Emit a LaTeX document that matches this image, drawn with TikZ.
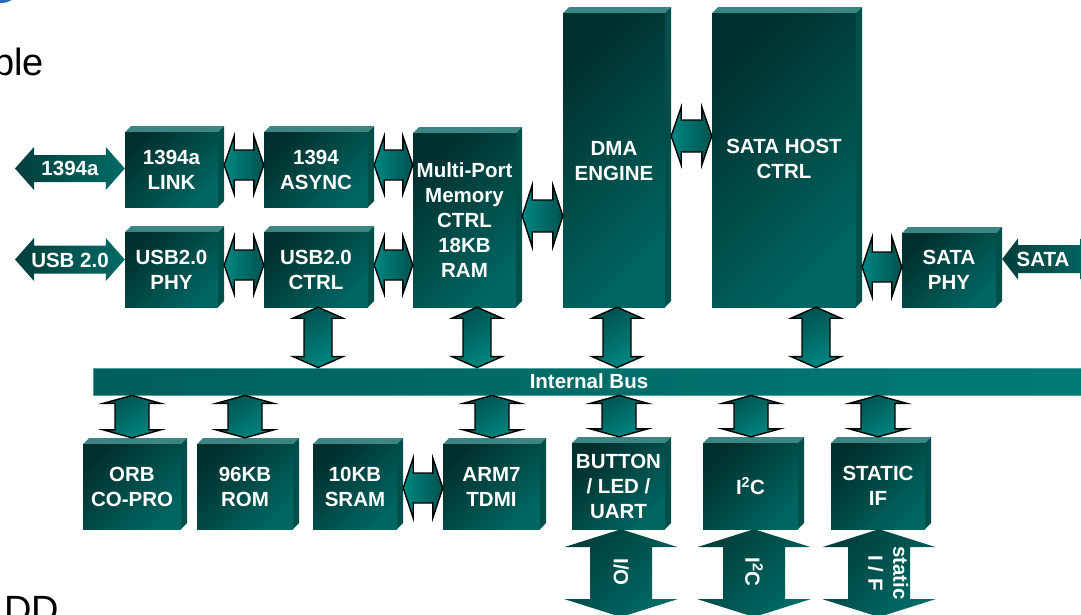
\documentclass[tikz,border=0pt]{standalone}
\usepackage{fontspec}
\setmainfont{Liberation Sans}
\usetikzlibrary{calc}
\definecolor{fdark}{HTML}{00302E}
\definecolor{flight}{HTML}{006661}
\definecolor{ftop}{HTML}{3B8682}
\definecolor{fside}{HTML}{004E4A}
\definecolor{adark}{HTML}{00524F}
\definecolor{alight}{HTML}{008781}
\definecolor{edark}{HTML}{003E3B}
\definecolor{elight}{HTML}{006B66}
\definecolor{busl}{HTML}{007B76}
\definecolor{busd}{HTML}{005F5B}
\definecolor{logoblue}{HTML}{2A6DB0}
% block: name, x1, y1, x2, y2, text
\newcommand\blk[6]{%
  \fill[ftop] (#2,#3) -- ++(6,-6) -- (#4+6,#3-6) -- (#4,#3) -- cycle;
  \fill[fside] (#4,#3) -- ++(6,-6) -- (#4+6,#5-6) -- (#4,#5) -- cycle;
  \node[face, minimum width=#4-#2, minimum height=#5-#3] (#1) at ({(#2+#4)/2},{(#3+#5)/2}) {#6};}
% horizontal double arrow: left pt, right pt, half head, half shaft, head length, style
\newcommand\harr[6]{%
  \path[#6] (#1) -- ++(#5,-#3) -- ++(0,#3-#4) -- ($(#2)+(-#5,-#4)$) -- ++(0,#4-#3) -- (#2)
    -- ++(-#5,#3) -- ++(0,#4-#3) -- ($(#1)+(#5,#4)$) -- ++(0,#3-#4) -- cycle;}
% vertical double arrow: top pt, bottom pt, half head, half shaft, head length, style
\newcommand\varr[6]{%
  \path[#6] (#1) -- ++(#3,#5) -- ++(#4-#3,0) -- ($(#2)+(#4,-#5)$) -- ++(#3-#4,0) -- (#2)
    -- ++(-#3,-#5) -- ++(#3-#4,0) -- ($(#1)+(-#4,#5)$) -- ++(#4-#3,0) -- cycle;}
% connector between two blocks side by side
\newcommand\hconn[6]{%
  \coordinate (hL) at ($(#1.east |- 0,#3)+(6,0)$);
  \coordinate (hR) at (#2.west |- 0,#3);
  \harr{hL}{hR}{#4}{#5}{#6}{hconnS}}
\begin{document}
\begin{tikzpicture}[x=1pt,y=-1pt,
  lbl/.style={text=white,font=\fontsize{20.5}{25}\selectfont\bfseries,align=center,inner sep=0pt},
  face/.style={lbl,top color=fdark,bottom color=flight,shading angle=45},
  hconnS/.style={draw=black,line width=1.4pt,line join=miter,left color=alight,right color=adark},
  vconnS/.style={draw=black,line width=1.4pt,line join=miter,top color=adark,bottom color=alight,shading angle=30},
  extS/.style={left color=edark,right color=elight},
  extV/.style={top color=edark,bottom color=elight,shading angle=45},
  busS/.style={lbl,left color=busd,right color=busl,draw=busl!70!white,line width=0.8pt},
  big/.style={font=\fontsize{38}{40}\selectfont,inner sep=0pt,text=black}
]
\useasboundingbox (0,0) rectangle (1081,614);
\clip (0,0) rectangle (1081,614);
% background fragments
\fill[logoblue] (2,-5) ellipse [x radius=12, y radius=8];
\node[big,anchor=base east] (ble) at (44,75) {ble};
\node[big,anchor=base west] (dd) at (4,622) {DD};
% blocks
\blk{link}{125}{132}{218}{207}{1394a\\LINK}
\blk{async}{264}{132}{368}{207}{1394\\ASYNC}
\blk{phy}{125}{232}{218}{307}{USB2.0\\PHY}
\blk{uctrl}{264}{232}{368}{307}{USB2.0\\CTRL}
\blk{mem}{413}{133}{516}{307}{Multi-Port\\Memory\\CTRL\\18KB\\RAM}
\blk{dma}{563}{13}{665}{307}{}
\blk{sata}{712}{13}{856}{307}{}
\blk{sphy}{902}{233}{996}{307}{SATA\\PHY}
\blk{orb}{83}{444}{181}{529}{ORB\\CO-PRO}
\blk{rom}{197}{444}{293}{529}{96KB\\ROM}
\blk{sram}{313}{444}{397}{529}{10KB\\SRAM}
\blk{arm}{443}{444}{540}{529}{ARM7\\TDMI}
\blk{btn}{572}{443}{665}{529}{BUTTON\\/ LED /\\UART}
\blk{iic}{703}{443}{798}{529}{I\textsuperscript{2}C}
\blk{sif}{831}{443}{925}{529}{STATIC\\IF}
\node[lbl] (dmaT) at (614,161) {DMA\\ENGINE};
\node[lbl] (sataT) at (784,159) {SATA HOST\\CTRL};
% bus
\node[busS,minimum width=992,minimum height=27] (bus) at (589,381.5) {Internal Bus};
% horizontal connectors
\hconn{link}{async}{165}{29}{15}{10}
\hconn{async}{mem}{165}{29}{15}{10}
\hconn{phy}{uctrl}{265}{29}{15}{10}
\hconn{uctrl}{mem}{265}{29}{15}{10}
\hconn{mem}{dma}{216}{31}{16}{10}
\hconn{dma}{sata}{136}{29}{16}{10}
\hconn{sata}{sphy}{267}{30}{15}{10}
\hconn{sram}{arm}{488}{30}{15}{10}
% vertical connectors to the bus (above)
\coordinate (u1a) at (318,0 |- uctrl.south); \coordinate (u1b) at (318,0 |- bus.north);
\varr{u1a}{u1b}{25}{14}{11}{vconnS}
\coordinate (u2a) at (477,0 |- mem.south); \coordinate (u2b) at (477,0 |- bus.north);
\varr{u2a}{u2b}{25}{14}{11}{vconnS}
\coordinate (u3a) at (617,0 |- dma.south); \coordinate (u3b) at (617,0 |- bus.north);
\varr{u3a}{u3b}{25}{14}{11}{vconnS}
\coordinate (u4a) at (816,0 |- sata.south); \coordinate (u4b) at (816,0 |- bus.north);
\varr{u4a}{u4b}{25}{14}{11}{vconnS}
% vertical connectors from the bus (below)
\coordinate (l1a) at (132,0 |- bus.south); \coordinate (l1b) at ($(132,0 |- orb.north)+(0,-6)$);
\varr{l1a}{l1b}{29}{17}{8}{vconnS}
\coordinate (l2a) at (245,0 |- bus.south); \coordinate (l2b) at ($(245,0 |- rom.north)+(0,-6)$);
\varr{l2a}{l2b}{29}{17}{8}{vconnS}
\coordinate (l3a) at (492,0 |- bus.south); \coordinate (l3b) at ($(492,0 |- arm.north)+(0,-6)$);
\varr{l3a}{l3b}{29}{17}{8}{vconnS}
\coordinate (l4a) at (619,0 |- bus.south); \coordinate (l4b) at ($(619,0 |- btn.north)+(0,-6)$);
\varr{l4a}{l4b}{29}{17}{8}{vconnS}
\coordinate (l5a) at (751,0 |- bus.south); \coordinate (l5b) at ($(751,0 |- iic.north)+(0,-6)$);
\varr{l5a}{l5b}{29}{17}{8}{vconnS}
\coordinate (l6a) at (878,0 |- bus.south); \coordinate (l6b) at ($(878,0 |- sif.north)+(0,-6)$);
\varr{l6a}{l6b}{29}{17}{8}{vconnS}
% external arrows
\coordinate (x1a) at (15,168.5); \coordinate (x1b) at (link.west |- 0,168.5);
\harr{x1a}{x1b}{21.5}{13.5}{19}{extS}
\node[lbl] (t1394) at (70,168) {1394a};
\coordinate (x2a) at (15,259.5); \coordinate (x2b) at (phy.west |- 0,259.5);
\harr{x2a}{x2b}{21.5}{14}{19}{extS}
\node[lbl] (tusb) at (70,260) {USB 2.0};
\coordinate (x3a) at ($(sphy.east |- 0,259)+(6,0)$); \coordinate (x3b) at (1096,259);
\harr{x3a}{x3b}{21}{14}{16}{extS}
\node[lbl] (tsata) at (1043,259) {SATA};
% bottom I/O arrows
\coordinate (b1a) at (621,0 |- btn.south); \coordinate (b1b) at (621,617);
\varr{b1a}{b1b}{57}{31}{18}{extV}
\node[lbl,rotate=-90] (tio) at (621,572) {I/O};
\coordinate (b2a) at (754,0 |- iic.south); \coordinate (b2b) at (754,617);
\varr{b2a}{b2b}{57}{31}{18}{extV}
\node[lbl,rotate=-90] (tiic) at (754,572) {I\textsuperscript{2}C};
\coordinate (b3a) at (879,0 |- sif.south); \coordinate (b3b) at (879,617);
\varr{b3a}{b3b}{57}{31}{18}{extV}
\node[lbl,rotate=-90] (tsif) at (888,573) {static\\I / F};
\end{tikzpicture}
\end{document}
